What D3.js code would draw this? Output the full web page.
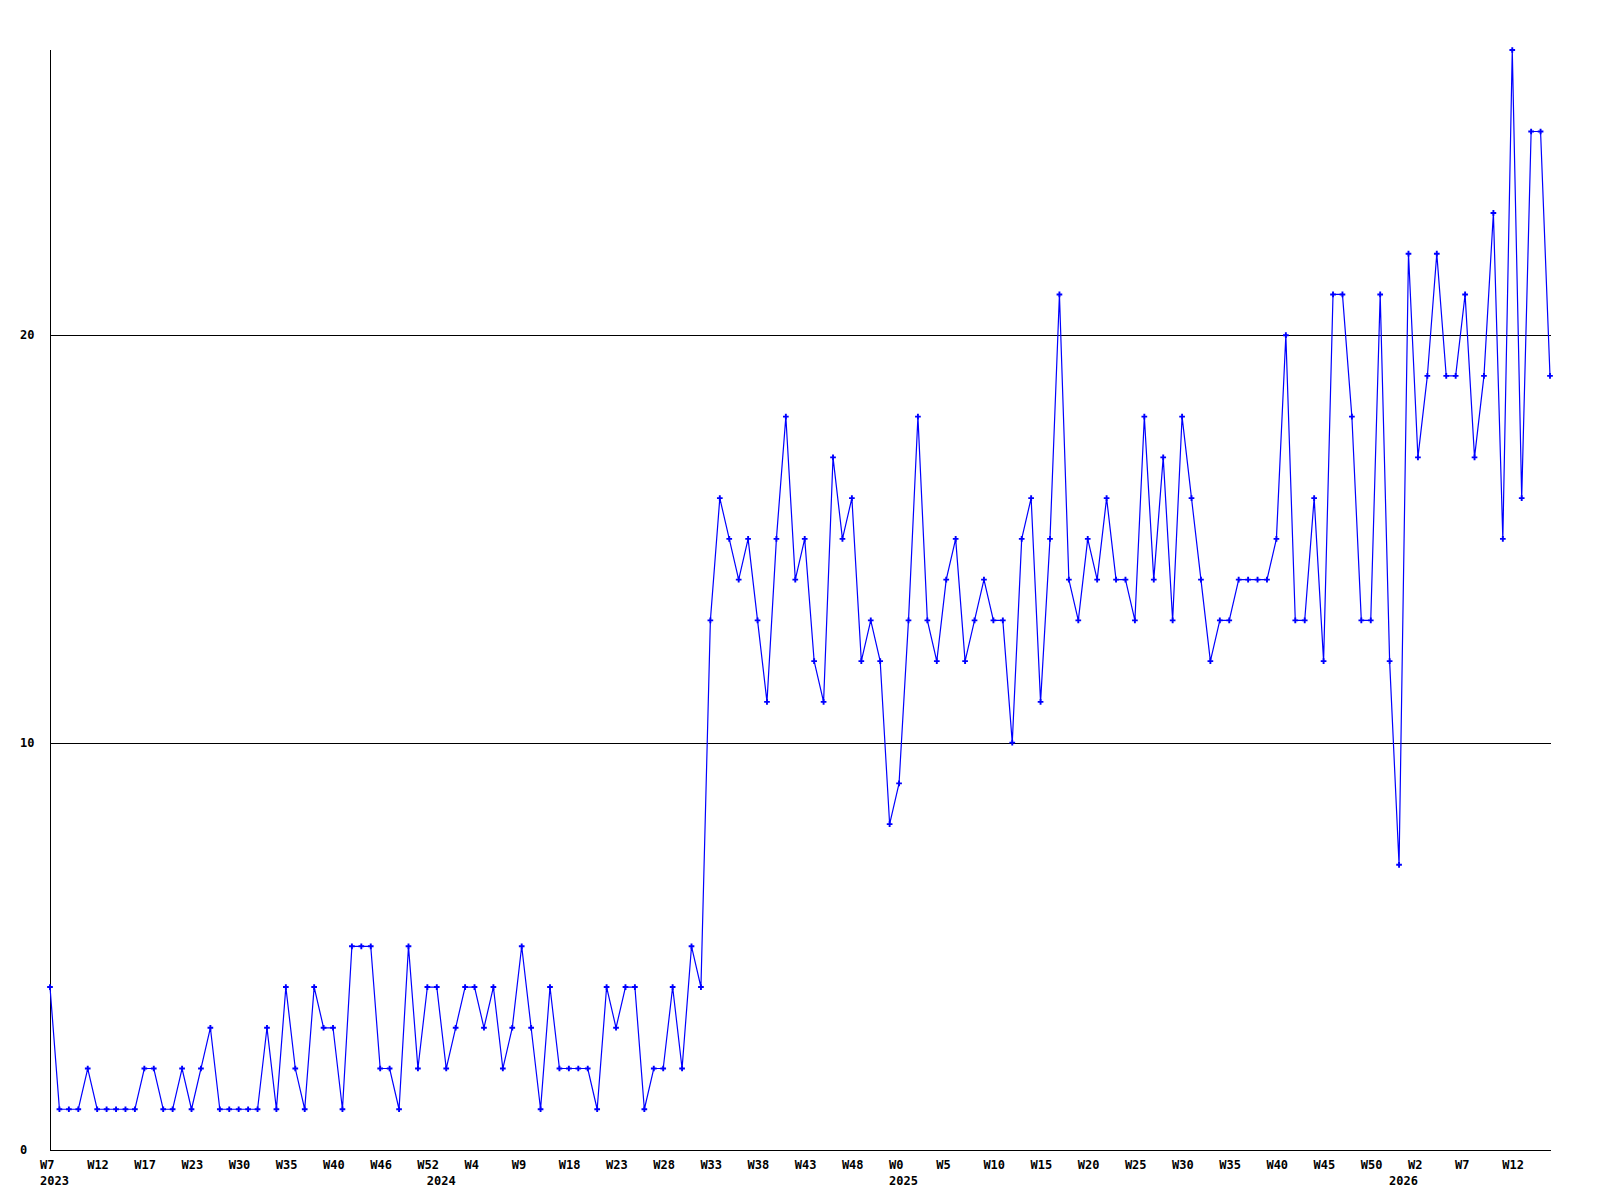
<!DOCTYPE html>
<html>
<head>
<meta charset="utf-8">
<script src="https://cdn.jsdelivr.net/npm/d3@7"></script>
<style>
  html, body { margin: 0; padding: 0; background: #fff; }
  text { font-family: "DejaVu Sans Mono", monospace; font-weight: bold; font-size: 12px; fill: #000; }
</style>
</head>
<body>
<script>
// weekly counts, one per point
var values = [
  4, 1, 1, 1, 2, 1, 1, 1, 1, 1,
  2, 2, 1, 1, 2, 1, 2, 3, 1, 1,
  1, 1, 1, 3, 1, 4, 2, 1, 4, 3,
  3, 1, 5, 5, 5, 2, 2, 1, 5, 2,
  4, 4, 2, 3, 4, 4, 3, 4, 2, 3,
  5, 3, 1, 4, 2, 2, 2, 2, 1, 4,
  3, 4, 4, 1, 2, 2, 4, 2, 5, 4,
  13, 16, 15, 14, 15, 13, 11, 15, 18, 14,
  15, 12, 11, 17, 15, 16, 12, 13, 12, 8,
  9, 13, 18, 13, 12, 14, 15, 12, 13, 14,
  13, 13, 10, 15, 16, 11, 15, 21, 14, 13,
  15, 14, 16, 14, 14, 13, 18, 14, 17, 13,
  18, 16, 14, 12, 13, 13, 14, 14, 14, 14,
  15, 20, 13, 13, 16, 12, 21, 21, 18, 13,
  13, 21, 12, 7, 22, 17, 19, 22, 19, 19,
  21, 17, 19, 23, 15, 27, 16, 25, 25, 19
];

// a week label every 5 points
var weekLabels = ["W7", "W12", "W17", "W23", "W30", "W35", "W40", "W46", "W52", "W4",
  "W9", "W18", "W23", "W28", "W33", "W38", "W43", "W48", "W0", "W5",
  "W10", "W15", "W20", "W25", "W30", "W35", "W40", "W45", "W50", "W2",
  "W7", "W12"];
var yearLabels = ["2023", "2024", "2025", "2026"];
var yearIndex = [0, 41, 90, 143];
var yTicks = [0, 10, 20];

var width = 1600, height = 1200;
var plotLeft = 50, plotRight = 1550, plotTop = 50, plotBottom = 1150;

var svg = d3.select("body").append("svg")
  .attr("width", width)
  .attr("height", height);

var x = d3.scaleLinear().domain([0, values.length - 1]).range([plotLeft, plotRight]);
var y = d3.scaleLinear().domain([0, 27]).range([plotBottom, plotTop]);

// gridlines
svg.append("g")
  .selectAll("line")
  .data(yTicks.filter(function (d) { return d > 0; }))
  .enter()
  .append("line")
  .attr("x1", plotLeft)
  .attr("x2", plotRight + 1)
  .attr("y1", function (d) { return Math.round(y(d)) + 0.5; })
  .attr("y2", function (d) { return Math.round(y(d)) + 0.5; })
  .attr("stroke", "#000")
  .attr("stroke-width", 1);

// axes
svg.append("line")
  .attr("x1", plotLeft + 0.5).attr("x2", plotLeft + 0.5)
  .attr("y1", plotTop).attr("y2", plotBottom + 1)
  .attr("stroke", "#000");
svg.append("line")
  .attr("x1", plotLeft).attr("x2", plotRight + 1)
  .attr("y1", plotBottom + 0.5).attr("y2", plotBottom + 0.5)
  .attr("stroke", "#000");

// y labels
svg.append("g")
  .selectAll("text")
  .data(yTicks)
  .enter()
  .append("text")
  .attr("x", 20)
  .attr("y", function (d) { return y(d) + 4; })
  .text(function (d) { return d; });

// week labels
svg.append("g")
  .selectAll("text")
  .data(weekLabels)
  .enter()
  .append("text")
  .attr("x", function (d, i) { return x(i * 5) - 10; })
  .attr("y", 1169)
  .text(function (d) { return d; });

// year labels
svg.append("g")
  .selectAll("text")
  .data(yearLabels)
  .enter()
  .append("text")
  .attr("x", function (d, i) { return x(yearIndex[i]) - 10; })
  .attr("y", 1185)
  .text(function (d) { return d; });

var line = d3.line()
  .x(function (d, i) { return x(i); })
  .y(function (d) { return y(d); });

svg.append("path")
  .datum(values)
  .attr("d", line)
  .attr("fill", "none")
  .attr("stroke", "#0000ff")
  .attr("stroke-width", 1.2);

svg.append("g")
  .selectAll("path")
  .data(values)
  .enter()
  .append("path")
  .attr("transform", function (d, i) { return "translate(" + x(i) + "," + y(d) + ")"; })
  .attr("d", d3.symbol().type(d3.symbolCross).size(18))
  .attr("fill", "#0000ff");
</script>
</body>
</html>
